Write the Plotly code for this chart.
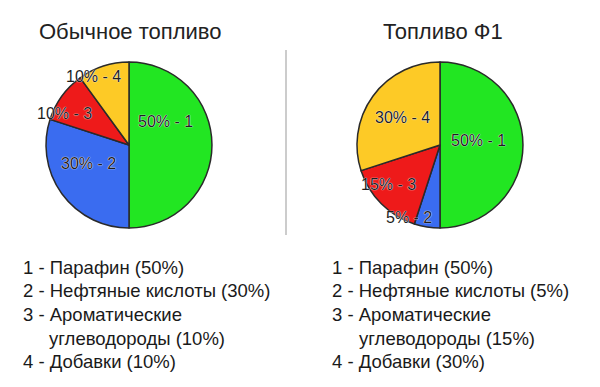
import math
import plotly.graph_objects as go

# ---- data ----
titles = ["Обычное топливо", "Топливо Ф1"]
slice_ids = ["1", "2", "3", "4"]
regular_values = [50, 30, 10, 10]
f1_values = [50, 5, 15, 30]
component_names = ["Парафин", "Нефтяные кислоты", "Ароматические\nуглеводороды", "Добавки"]

# ---- style ----
colors = ["#22e622", "#3a6cf0", "#ee1a1a", "#fdca26"]
label_r = {  # radial fraction for label, per pie, per slice
    0: [0.525, 0.54, 0.87, 0.93],
    1: [0.47, 0.955, 0.78, 0.56],
}
label_dang = {0: [-32, 12, -10, -9], 1: [-7, 14, 7, 0]}
W, H = 600, 387
pies = [
    dict(values=regular_values, cx=129, cy=145, r=83),
    dict(values=f1_values, cx=440, cy=145, r=83),
]
FONT = "Liberation Sans, Arial"
OUTLINE = "0px 0px 1px #ffffff, 0px 0px 1px #ffffff"

fig = go.Figure()
annotations = []
for i, p in enumerate(pies):
    cx, cy, r = p["cx"], p["cy"], p["r"]
    fig.add_trace(go.Pie(
        values=p["values"], labels=slice_ids, sort=False, direction="clockwise",
        rotation=0, textinfo="none", hoverinfo="label+percent",
        marker=dict(colors=colors, line=dict(color="#2a2a2a", width=1.5)),
        domain=dict(x=[(cx - r) / W, (cx + r) / W], y=[1 - (cy + r) / H, 1 - (cy - r) / H]),
        showlegend=False,
    ))
    total = sum(p["values"])
    cum = 0
    for j, v in enumerate(p["values"]):
        mid = (cum + v / 2) / total * 360 + label_dang[i][j]
        cum += v
        rr = label_r[i][j] * r
        x = cx + rr * math.sin(math.radians(mid))
        y = cy - rr * math.cos(math.radians(mid))
        annotations.append(dict(
            x=x / W, y=1 - y / H, xref="paper", yref="paper", showarrow=False,
            xanchor="center", yanchor="middle",
            text=f"{v}% - {slice_ids[j]}",
            font=dict(family=FONT, size=16, color="#1e1e1e", shadow=OUTLINE),
        ))
    # title
    annotations.append(dict(
        x=[130, 443][i] / W, y=1 - 32 / H, xref="paper", yref="paper", showarrow=False,
        xanchor="center", yanchor="middle",
        text=titles[i], font=dict(family=FONT, size=22, color="#222222"),
    ))
    # legend text
    lx = [21, 330][i]
    indent = [47, 357][i]
    ly = 267
    for j, name in enumerate(component_names):
        parts = name.split("\n")
        for k, part in enumerate(parts):
            txt = part
            if k == len(parts) - 1:
                txt = f"{part} ({p['values'][j]}%)"
            if k == 0:
                txt = f"{slice_ids[j]} - {txt}"
            annotations.append(dict(
                x=(lx if k == 0 else indent) / W, y=1 - ly / H, xref="paper", yref="paper",
                xanchor="left", yanchor="middle", showarrow=False, text=txt,
                font=dict(family=FONT, size=18.5, color="#1a1a1a"),
            ))
            ly += 23.7

fig.update_layout(
    width=W, height=H, margin=dict(l=0, r=0, t=0, b=0),
    paper_bgcolor="white", plot_bgcolor="white",
    annotations=annotations,
    shapes=[dict(type="line", xref="paper", yref="paper", x0=286 / W, x1=286 / W,
                 y0=1 - 235 / H, y1=1 - 50 / H, line=dict(color="#aaaaaa", width=1.2))],
)
fig.write_html("out.html", config={"displayModeBar": False},
               post_script="document.body.style.margin='0px';")
